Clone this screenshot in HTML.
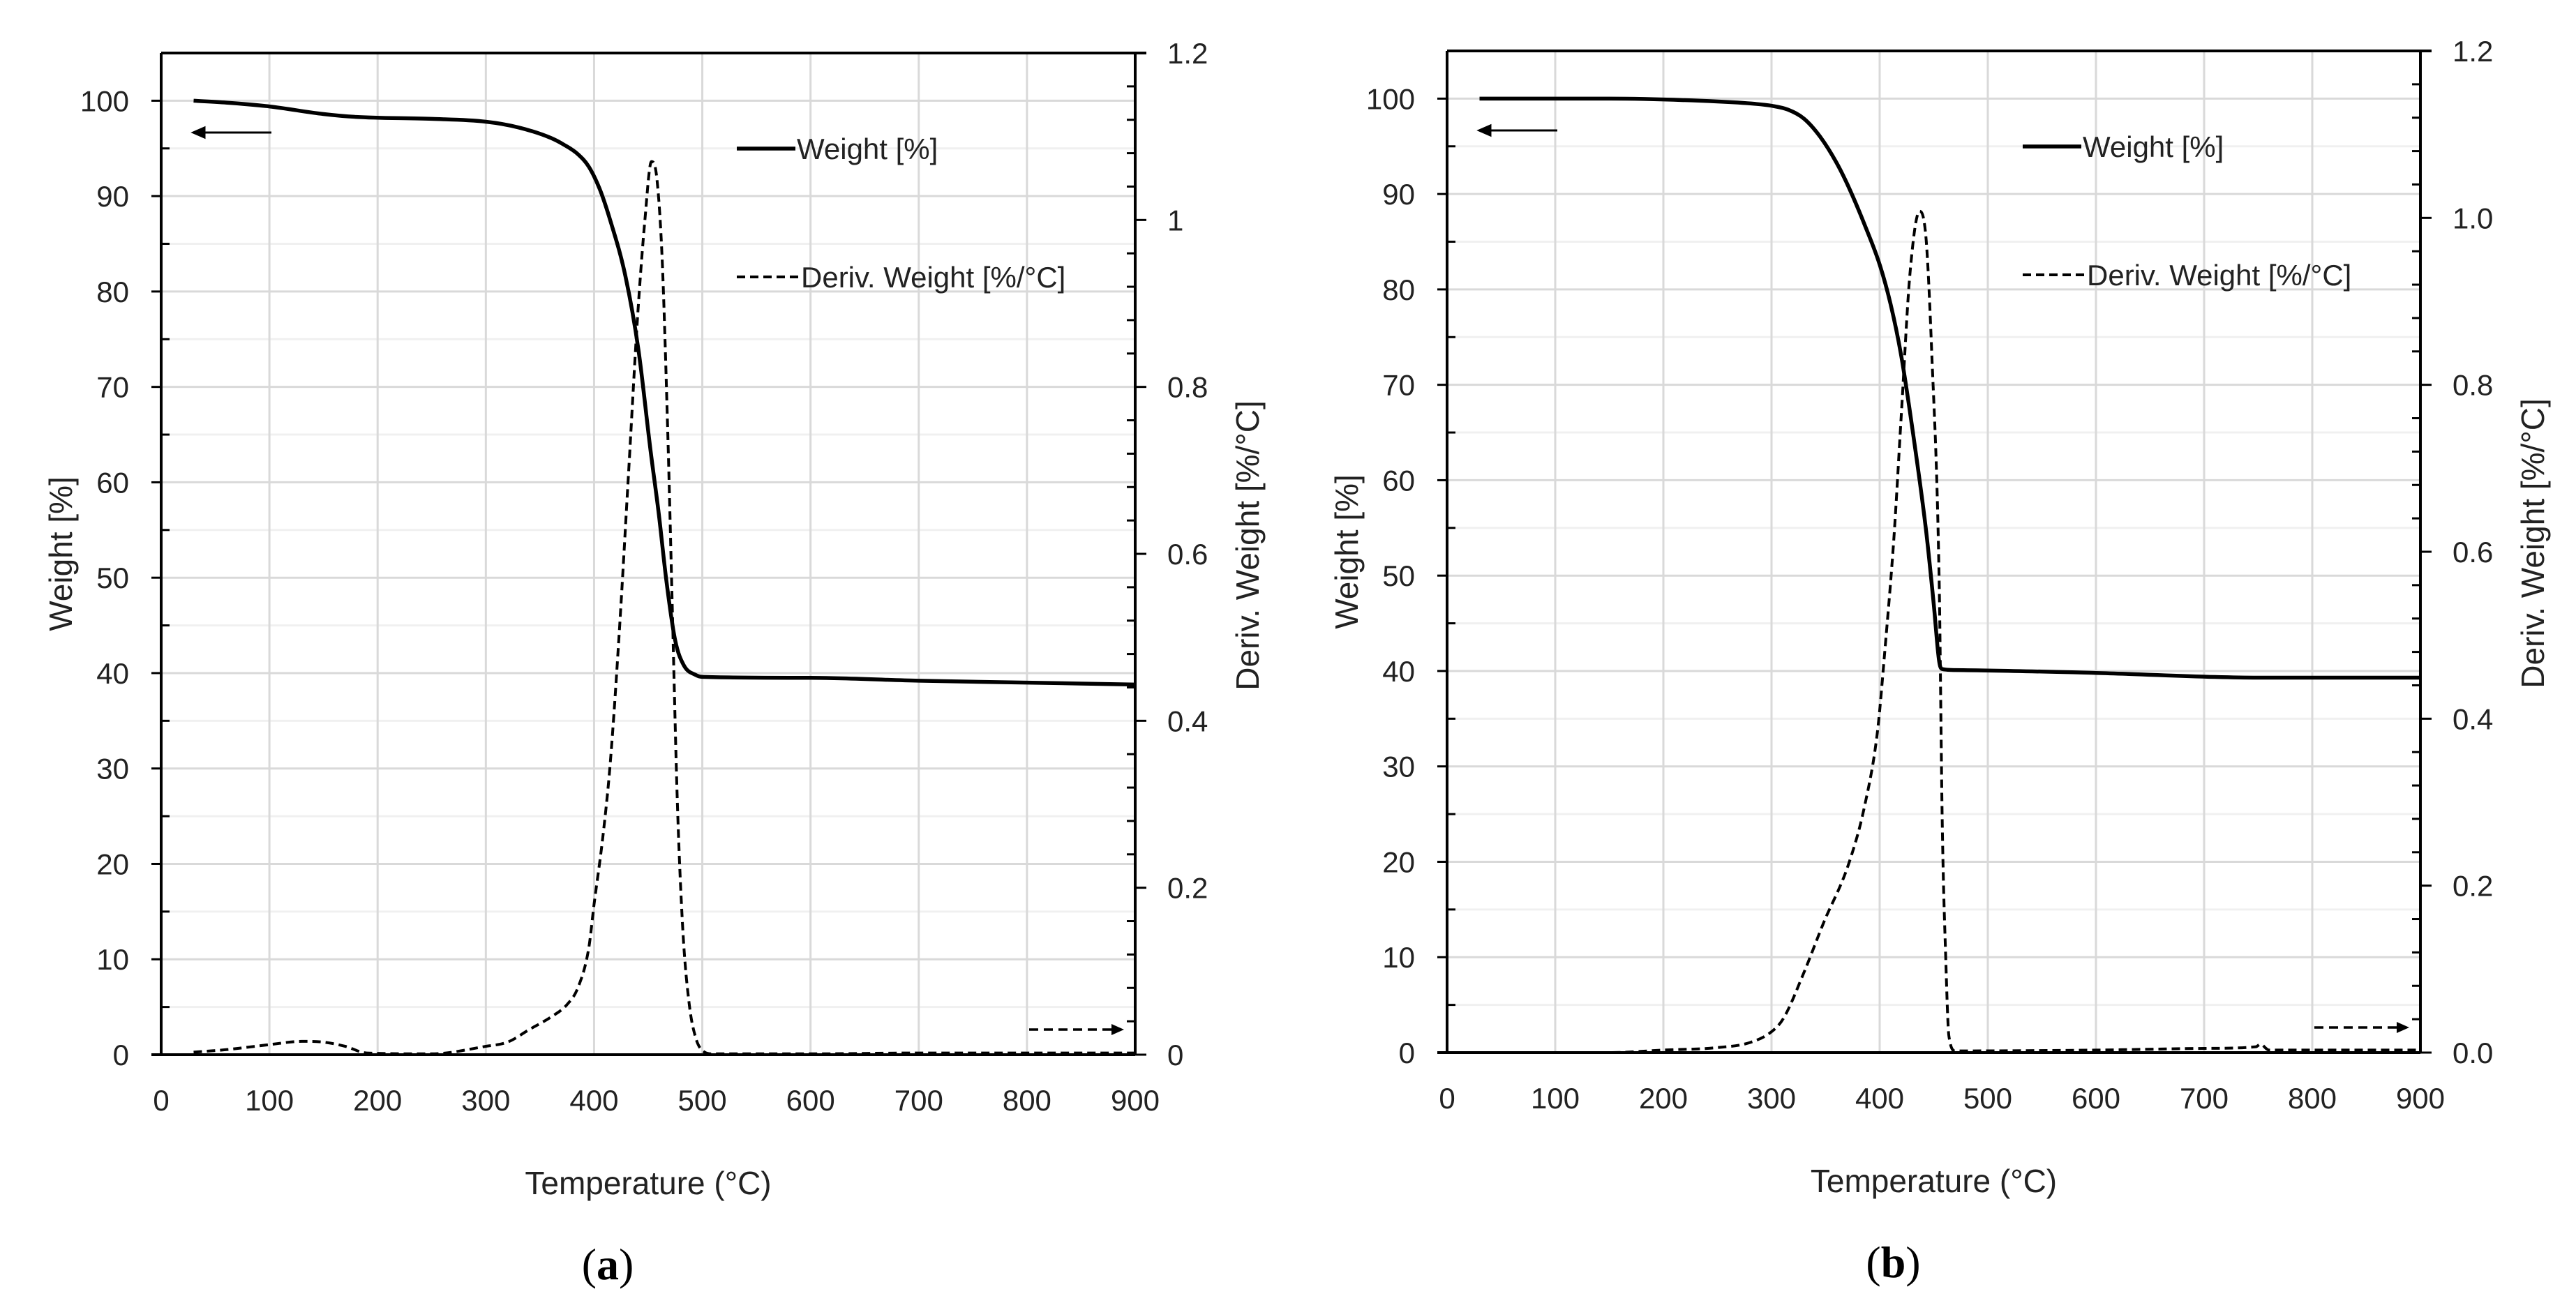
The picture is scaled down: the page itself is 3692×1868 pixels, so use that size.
<!DOCTYPE html>
<html><head><meta charset="utf-8"><style>
html,body{margin:0;padding:0;background:#fff;}
svg{display:block;font-family:"Liberation Sans",Arial,sans-serif;}
</style></head><body>
<svg id="chart" width="3692" height="1868" viewBox="0 0 3692 1868" xmlns="http://www.w3.org/2000/svg"></svg>
<script>
// ---- Data (panel a) ----
const tempA = [30,60,100,150,180,250,300,330,360,372,385,395,405,414,429,441,452,460,467,475,483,494,500,600,700,800,900];
const weightA = [100,99.8,99.4,98.6,98.3,98.1,97.8,97.2,96.1,95.4,94.4,93.1,90.8,87.8,81.6,73.9,63.5,56.5,49.5,43.4,40.8,39.8,39.6,39.5,39.2,39.0,38.8];
const dTempA = [30,60,100,130,150,170,190,250,300,320,340,360,375,385,395,400,408,415,423,432,440,447,453,458,463,468,472,477,482,488,494,500,510,600,700,800,900];
const derivA = [0.003,0.006,0.012,0.016,0.015,0.01,0.002,0.001,0.01,0.015,0.03,0.045,0.06,0.08,0.127,0.18,0.26,0.35,0.5,0.7,0.88,1.0,1.07,1.05,0.95,0.75,0.55,0.3,0.15,0.06,0.02,0.005,0.001,0.001,0.002,0.002,0.002];
// ---- Data (panel b) ----
const tempB = [30,150,250,285,300,315,330,345,360,371,386,400,410,420,432,443,450,455,458,470,600,750,900];
const weightB = [100,100,99.7,99.45,99.25,98.85,97.9,96.0,93.3,90.8,86.8,82.6,78.5,73,64,54.6,47,41,40.2,40.1,39.8,39.3,39.3];
const dTempB = [30,150,200,250,280,300,311,330,348,371,386,398,405,413,420,428,437,443,448,455,458,461,464,470,600,700,748,752,760,900];
const derivB = [0,0,0.003,0.006,0.012,0.025,0.041,0.096,0.155,0.225,0.295,0.385,0.485,0.614,0.764,0.933,1.008,0.973,0.843,0.564,0.265,0.116,0.02,0.002,0.003,0.005,0.007,0.01,0.003,0.003];
// ---- Axis ticks ----
const xTicks = [0,100,200,300,400,500,600,700,800,900];
const yTicks = [0,10,20,30,40,50,60,70,80,90,100];
const y2TicksVal = [0,0.2,0.4,0.6,0.8,1.0,1.2];
const y2LabelsA = ["0","0.2","0.4","0.6","0.8","1","1.2"];
const y2LabelsB = ["0.0","0.2","0.4","0.6","0.8","1.0","1.2"];

const NS="http://www.w3.org/2000/svg";
const svg=document.getElementById('chart');
function mk(tag,attrs,parent){const e=document.createElementNS(NS,tag);for(const k in attrs)e.setAttribute(k,attrs[k]);(parent||svg).appendChild(e);return e;}

function smoothPath(xs,ys){
  const n=xs.length;const dx=[],m=[],s=[];
  for(let i=0;i<n-1;i++){dx[i]=xs[i+1]-xs[i];s[i]=(ys[i+1]-ys[i])/dx[i];}
  m[0]=s[0];m[n-1]=s[n-2];
  for(let i=1;i<n-1;i++){m[i]=(s[i-1]*s[i]<=0)?0:(s[i-1]+s[i])/2;}
  for(let i=0;i<n-1;i++){if(s[i]===0){m[i]=0;m[i+1]=0;continue;}
    const a=m[i]/s[i],b=m[i+1]/s[i],h=a*a+b*b;if(h>9){const t=3/Math.sqrt(h);m[i]=t*a*s[i];m[i+1]=t*b*s[i];}}
  let d=`M${xs[0].toFixed(1)},${ys[0].toFixed(1)}`;
  for(let i=0;i<n-1;i++){const h=dx[i]/3;
    d+=`C${(xs[i]+h).toFixed(1)},${(ys[i]+m[i]*h).toFixed(1)} ${(xs[i+1]-h).toFixed(1)},${(ys[i+1]-m[i+1]*h).toFixed(1)} ${xs[i+1].toFixed(1)},${ys[i+1].toFixed(1)}`;}
  return d;
}

function panel(cfg){
  const g=mk('g',{});
  
  
  const L=cfg.L,R=cfg.R,T=cfg.T,B=cfg.B;
  const sx=v=>L+(v-0)/900*(R-L);
  const sy=v=>B-v/105*(B-T);
  const sy2=v=>B-v/1.2*(B-T);
  for(let v=5;v<105;v+=10){const l=mk('line',{x1:L,x2:R,y1:sy(v),y2:sy(v),stroke:'#f0f0f0','stroke-width':3},g);
    }
  yTicks.forEach(v=>{if(v===0)return;const l=mk('line',{x1:L,x2:R,y1:sy(v),y2:sy(v),stroke:'#d9d9d9','stroke-width':3},g);
    });
  xTicks.forEach(v=>{if(v===0||v===900)return;const l=mk('line',{x1:sx(v),x2:sx(v),y1:T,y2:B,stroke:'#d9d9d9','stroke-width':3},g);
    });
  const ax=mk('path',{d:`M${L-14},${B}H${R} M${L},${B}V${T} M${R},${B}V${T} M${L},${T}H${R+16}`,stroke:'#000','stroke-width':4,fill:'none'},g);
  
  yTicks.forEach(v=>{mk('line',{x1:L-14,x2:L,y1:sy(v),y2:sy(v),stroke:'#000','stroke-width':3},g);
    const t=mk('text',{x:L-46,y:sy(v)+15,'text-anchor':'end','font-size':42,fill:'#222'},g);t.textContent=v;
    });
  for(let v=5;v<105;v+=10){mk('line',{x1:L,x2:L+12,y1:sy(v),y2:sy(v),stroke:'#000','stroke-width':3},g);}
  y2TicksVal.forEach((v,i)=>{mk('line',{x1:R,x2:R+16,y1:sy2(v),y2:sy2(v),stroke:'#000','stroke-width':3},g);
    const t=mk('text',{x:R+46,y:sy2(v)+15,'text-anchor':'start','font-size':42,fill:'#222'},g);t.textContent=cfg.y2Labels[i];
    });
  for(let v=0.04;v<1.2;v+=0.04){if(Math.abs(v/0.2-Math.round(v/0.2))<0.01)continue;mk('line',{x1:R-12,x2:R,y1:sy2(v),y2:sy2(v),stroke:'#000','stroke-width':3},g);}
  xTicks.forEach(v=>{const t=mk('text',{x:sx(v),y:B+80,'text-anchor':'middle','font-size':42,fill:'#222'},g);t.textContent=v;
    });
  let t=mk('text',{x:(L+R)/2,y:B+200,'text-anchor':'middle','font-size':46,fill:'#222'},g);t.textContent='Temperature (°C)';
  
  t=mk('text',{x:0,y:0,'text-anchor':'middle','font-size':46,fill:'#222',transform:`translate(${L-128},${(T+B)/2}) rotate(-90)`},g);t.textContent='Weight [%]';
  
  t=mk('text',{x:0,y:0,'text-anchor':'middle','font-size':46,fill:'#222',transform:`translate(${R+177},${(T+B)/2-12}) rotate(-90)`},g);t.textContent='Deriv. Weight [%/°C]';
  
  t=mk('text',{x:(L+R)/2-58,y:B+322,'text-anchor':'middle','font-size':64,'font-family':'Liberation Serif, serif',fill:'#000'},g);
  t.innerHTML='(<tspan font-weight="bold">'+cfg.letter+'</tspan>)';
  
  const wp=smoothPath(cfg.temp.map(sx),cfg.weight.map(sy));
  const w=mk('path',{d:wp,stroke:'#000','stroke-width':5.5,fill:'none','stroke-linejoin':'round'},g);
  
  const dp=smoothPath(cfg.dtemp.map(sx),cfg.deriv.map(sy2));
  const d=mk('path',{d:dp,stroke:'#000','stroke-width':4,fill:'none','stroke-dasharray':'12 7','stroke-linejoin':'round'},g);
  
  const lx=L+825, ly1=T+137, ly2=T+321;
  mk('line',{x1:lx,x2:lx+84,y1:ly1,y2:ly1,stroke:'#000','stroke-width':5.5},g);
  t=mk('text',{x:lx+86,y:ly1+15,'font-size':42,fill:'#222'},g);t.textContent='Weight [%]';
  
  mk('line',{x1:lx,x2:lx+88,y1:ly2,y2:ly2,stroke:'#000','stroke-width':4,'stroke-dasharray':'12 7'},g);
  t=mk('text',{x:lx+92,y:ly2+15,'font-size':42,fill:'#222'},g);t.textContent='Deriv. Weight [%/°C]';
  
  const ay=T+114;
  const a1=mk('path',{d:`M${L+158},${ay}H${L+52} M${L+46},${ay}l16,-7v14z`,stroke:'#000','stroke-width':3,fill:'#000'},g);
  
  const ry=B-36;
  const a2=mk('path',{d:`M${R-152},${ry}H${R-26}`,stroke:'#000','stroke-width':3.5,'stroke-dasharray':'13 8',fill:'none'},g);
  
  mk('path',{d:`M${R-16},${ry}l-18,-8v16z`,fill:'#000'},g);
}
panel({id:'panel-a',letter:'a',L:231,R:1627,T:76,B:1512,y2Labels:y2LabelsA,temp:tempA,weight:weightA,dtemp:dTempA,deriv:derivA});
panel({id:'panel-b',letter:'b',L:2074,R:3469,T:73,B:1509,y2Labels:y2LabelsB,temp:tempB,weight:weightB,dtemp:dTempB,deriv:derivB});
</script>
</body></html>
